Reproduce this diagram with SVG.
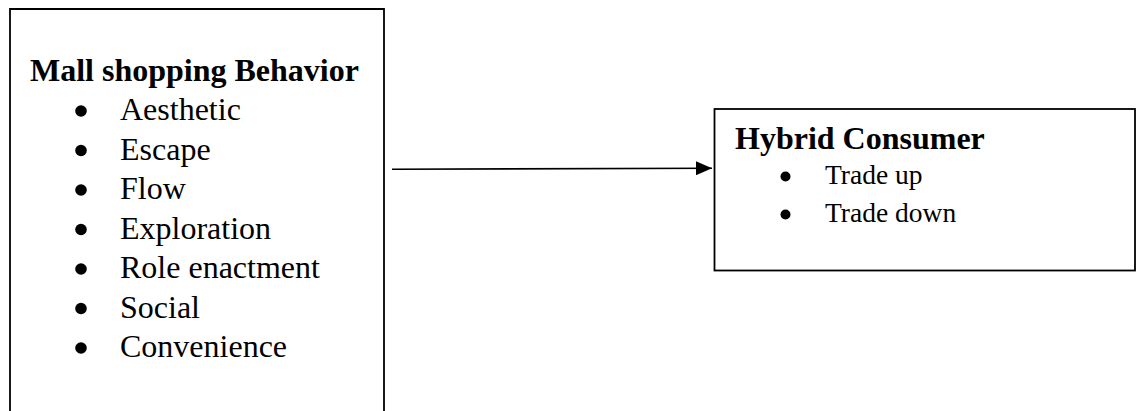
<svg xmlns="http://www.w3.org/2000/svg" width="1136" height="411" viewBox="0 0 1136 411">
  <defs>
    <style>
      .box { fill: #ffffff; stroke: #000000; stroke-width: 1.8; }
      .title { font-family: "Liberation Serif", "Times New Roman", serif; font-weight: bold; font-size: 32px; fill: #000000; }
      .item { font-family: "Liberation Serif", "Times New Roman", serif; font-size: 32px; fill: #000000; }
      .item2 { font-family: "Liberation Serif", "Times New Roman", serif; font-size: 27.5px; fill: #000000; }
      .bullet { fill: #000000; }
      .conn { stroke: #000000; stroke-width: 1.6; fill: none; }
    </style>
    <marker id="arrow" viewBox="0 0 16 14" refX="16" refY="7" markerWidth="16" markerHeight="14" markerUnits="userSpaceOnUse" orient="auto">
      <path d="M0,0 L16,7 L0,14 Z" fill="#000000"/>
    </marker>
  </defs>
  <rect width="1136" height="411" fill="#ffffff"/>

  <g id="mall-shopping-behavior">
    <path class="box" d="M10,415 L10,9 L384,9 L384,415"/>
    <text class="title" x="30" y="81">Mall shopping Behavior</text>
    <circle class="bullet" cx="81" cy="111" r="5.8"/>
    <text class="item" x="120" y="120">Aesthetic</text>
    <circle class="bullet" cx="81" cy="150.5" r="5.8"/>
    <text class="item" x="120" y="159.5">Escape</text>
    <circle class="bullet" cx="81" cy="190" r="5.8"/>
    <text class="item" x="120" y="199">Flow</text>
    <circle class="bullet" cx="81" cy="229.5" r="5.8"/>
    <text class="item" x="120" y="238.5">Exploration</text>
    <circle class="bullet" cx="81" cy="269" r="5.8"/>
    <text class="item" x="120" y="278">Role enactment</text>
    <circle class="bullet" cx="81" cy="308.5" r="5.8"/>
    <text class="item" x="120" y="317.5">Social</text>
    <circle class="bullet" cx="81" cy="348" r="5.8"/>
    <text class="item" x="120" y="357">Convenience</text>
  </g>

  <g id="hybrid-consumer">
    <rect class="box" x="714.5" y="109" width="420.5" height="161.5"/>
    <text class="title" x="735" y="149">Hybrid Consumer</text>
    <circle class="bullet" cx="785.5" cy="176.5" r="5"/>
    <text class="item2" x="825" y="184">Trade up</text>
    <circle class="bullet" cx="785.5" cy="214.5" r="5"/>
    <text class="item2" x="825" y="221.5">Trade down</text>
  </g>

  <g id="connectors">
    <line class="conn" x1="392" y1="169.3" x2="712" y2="168.2" marker-end="url(#arrow)"/>
  </g>
</svg>
